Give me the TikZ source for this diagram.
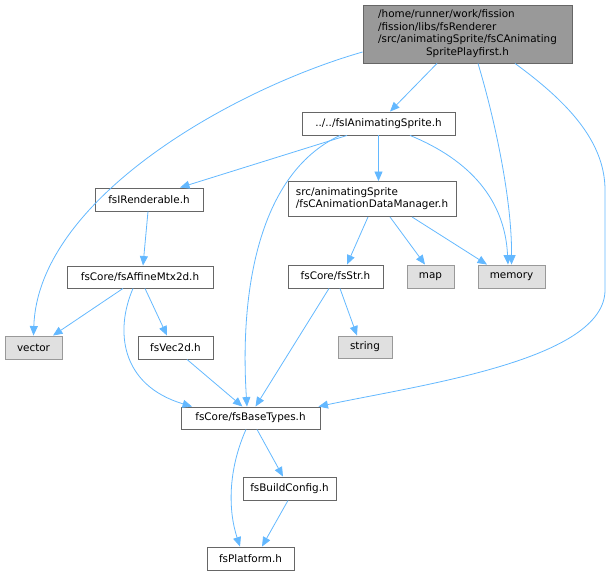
\documentclass[tikz,border=0pt]{standalone}
\usepackage{fontspec}
\setmainfont{DejaVu Sans}
\usetikzlibrary{arrows.meta}
\definecolor{edgeblue}{HTML}{63B8FF}
\definecolor{boxborder}{HTML}{666666}
\definecolor{extborder}{HTML}{999999}
\definecolor{extfill}{HTML}{E0E0E0}
\definecolor{rootfill}{HTML}{999999}
\begin{document}
\begin{tikzpicture}[x=1pt,y=-1pt,
  box/.style={draw=boxborder,fill=white,line width=0.9pt,inner sep=0pt,font=\fontsize{10.4}{12.7}\selectfont},
  extbox/.style={box,draw=extborder,fill=extfill},
  rootbox/.style={box,fill=rootfill},
  dep/.style={draw=edgeblue,line width=0.8pt,-{Triangle[length=9.5pt,width=8pt]}}]
\useasboundingbox (0,0) rectangle (613,576);
% nodes
\node[rootbox,minimum width=209pt,minimum height=58pt] (root) at (467.5,34)
  {\begin{tabular}{@{}l@{}}/home/runner/work/fission\\/fission/libs/fsRenderer\\/src/animatingSprite/fsCAnimating\\\multicolumn{1}{@{}c@{}}{SpritePlayfirst.h}\end{tabular}};
\node[box,minimum width=153pt,minimum height=23pt] (fis) at (378.5,123.5) {../../fsIAnimatingSprite.h};
\node[box,minimum width=108pt,minimum height=23pt] (ren) at (149,199.5) {fsIRenderable.h};
\node[box,minimum width=168pt,minimum height=35pt] (dm) at (372,199)
  {\begin{tabular}{@{}l@{}}src/animatingSprite\\/fsCAnimationDataManager.h\end{tabular}};
\node[box,minimum width=146pt,minimum height=22pt] (aff) at (140,277) {fsCore/fsAffineMtx2d.h};
\node[extbox,minimum width=57pt,minimum height=23pt] (vec) at (33.5,347.5) {vector};
\node[box,minimum width=75pt,minimum height=23pt] (v2d) at (175.5,347.5) {fsVec2d.h};
\node[box,minimum width=139pt,minimum height=22pt] (bt) at (250.5,418) {fsCore/fsBaseTypes.h};
\node[box,minimum width=93pt,minimum height=23pt] (bc) at (289.5,488.5) {fsBuildConfig.h};
\node[box,minimum width=87pt,minimum height=23pt] (pl) at (250.5,558.5) {fsPlatform.h};
\node[box,minimum width=95pt,minimum height=23pt] (str) at (335.5,276.5) {fsCore/fsStr.h};
\node[extbox,minimum width=47pt,minimum height=23pt] (map) at (430.5,276.5) {map};
\node[extbox,minimum width=67pt,minimum height=23pt] (mem) at (511.5,276.5) {memory};
\node[extbox,minimum width=54pt,minimum height=22pt] (strg) at (365,347) {string};
% edges
\draw[dep] ([yshift=-18pt]root.west) .. controls (230,90) and (38,200) .. (vec.north);
\draw[dep] ([xshift=-30.5pt]root.south) -- ([xshift=11.5pt]fis.north);
\draw[dep] ([xshift=10.5pt]root.south) .. controls (495,120) and (512,200) .. (mem.north);
\draw[dep] ([xshift=47.5pt]root.south) .. controls (565,100) and (605,140) .. (605,190)
  -- (605,290) .. controls (605,360) and (420,385) .. ([xshift=-2pt]bt.north east);
\draw[dep] ([xshift=-31.5pt]fis.south) -- ([xshift=31pt]ren.north);
\draw[dep] ([xshift=-38.5pt]fis.south) .. controls (255,175) and (240,300) .. ([xshift=-3.5pt]bt.north);
\draw[dep] (fis.south) -- (fis.south |- dm.north);
\draw[dep] ([xshift=31.5pt]fis.south) .. controls (470,160) and (505,200) .. ([xshift=-3.5pt]mem.north);
\draw[dep] ([xshift=-4pt]dm.south) -- ([xshift=11.5pt]str.north);
\draw[dep] ([xshift=18pt]dm.south) -- ([xshift=-5.5pt]map.north);
\draw[dep] ([xshift=40pt]dm.south) -- ([xshift=-24.5pt]mem.north);
\draw[dep] ([xshift=-1pt]ren.south) -- ([xshift=3pt]aff.north);
\draw[dep] ([xshift=-17pt]aff.south) -- ([xshift=19.5pt]vec.north);
\draw[dep] ([xshift=-7pt]aff.south) .. controls (115,330) and (120,385) .. ([xshift=11.5pt]bt.north west);
\draw[dep] ([xshift=5pt]aff.south) -- ([xshift=-8.5pt]v2d.north);
\draw[dep] ([xshift=11.5pt]v2d.south) -- ([xshift=-8pt]bt.north);
\draw[dep] ([xshift=-6.5pt]str.south) -- ([xshift=5pt]bt.north);
\draw[dep] ([xshift=4.5pt]str.south) -- ([xshift=-8pt]strg.north);
\draw[dep] ([xshift=6.5pt]bt.south) -- ([xshift=-6.5pt]bc.north);
\draw[dep] ([xshift=-4.5pt]bt.south) .. controls (228,470) and (228,510) .. ([xshift=-10.5pt]pl.north);
\draw[dep] ([xshift=-1.5pt]bc.south) -- ([xshift=11.5pt]pl.north);
\end{tikzpicture}
\end{document}
